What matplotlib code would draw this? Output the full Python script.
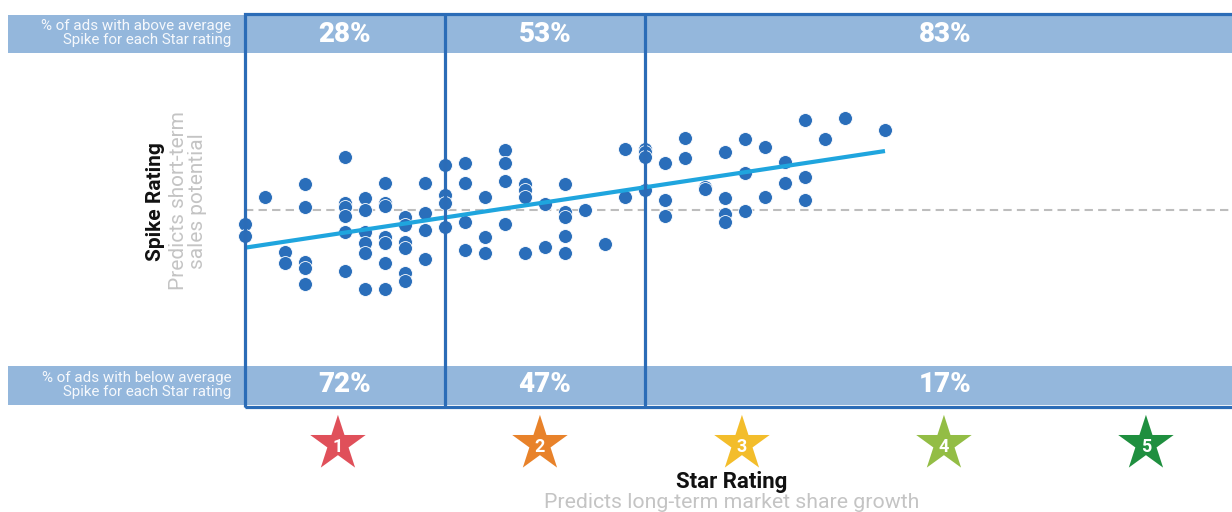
import numpy as np
import matplotlib.pyplot as plt
from matplotlib.patches import Rectangle

plt.rcParams['font.family'] = ['Roboto', 'DejaVu Sans']

# star rating (x) and spike rating (y, 0 = average) for each ad
star_score = [0.5, 0.5, 0.6, 0.7, 0.7,
              0.8, 0.8, 0.8, 0.8, 0.8,
              1.0, 1.0, 1.0, 1.0, 1.0, 1.0,
              1.1, 1.1, 1.1, 1.1, 1.1, 1.1,
              1.2, 1.2, 1.2, 1.2, 1.2, 1.2, 1.2,
              1.3, 1.3, 1.3, 1.3, 1.3, 1.3,
              1.4, 1.4, 1.4, 1.4,
              1.5, 1.5, 1.5, 1.5,
              1.6, 1.6, 1.6, 1.6,
              1.7, 1.7, 1.7,
              1.8, 1.8, 1.8, 1.8,
              1.9, 1.9, 1.9, 1.9,
              2.0, 2.0,
              2.1, 2.1, 2.1, 2.1, 2.1,
              2.2, 2.3, 2.4, 2.4,
              2.5, 2.5, 2.5, 2.5,
              2.6, 2.6, 2.6,
              2.7, 2.7, 2.8, 2.8,
              2.9, 2.9, 2.9, 2.9,
              3.0, 3.0, 3.0,
              3.1, 3.1, 3.2, 3.2,
              3.3, 3.3, 3.3, 3.4, 3.5, 3.7]
spike_score = [-1.4, -2.6, 1.3, -4.2, -5.3,
               2.6, 0.3, -5.2, -5.8, -7.4,
               5.3, 0.7, 0.3, -0.6, -2.2, -6.1,
               1.2, 0.0, -2.2, -3.3, -4.3, -7.9,
               2.7, 0.7, 0.4, -2.7, -3.3, -5.3, -7.9,
               -0.7, -1.5, -3.2, -3.8, -6.3, -7.1,
               2.7, -0.3, -2.0, -4.9,
               4.5, 1.5, 0.7, -1.7,
               4.7, 2.7, -1.2, -4.0,
               1.3, -2.7, -4.3,
               6.0, 4.7, 2.9, -1.4,
               2.6, 2.0, 1.3, -4.3,
               0.6, -3.7,
               2.6, -0.2, -0.7, -2.6, -4.3,
               0.0, -3.4, 6.1, 1.3,
               6.1, 5.8, 5.3, 2.0,
               4.7, 1.0, -0.6,
               7.2, 5.2, 2.3, 2.1,
               5.8, 1.2, -0.4, -1.2,
               7.1, 3.7, -0.1,
               6.3, 1.3, 4.8, 2.7,
               9.0, 3.3, 1.0, 7.1, 9.2, 8.0]

above_pct = ['28%', '53%', '83%']
below_pct = ['72%', '47%', '17%']
pct_x = [1, 2, 4]
segment_edges = [0.5, 1.5, 2.5]

star_labels = ['1', '2', '3', '4', '5']
star_pos = [1, 2, 3, 4, 5]
star_colors = ['#e0505a', '#e8822a', '#f3bd2b', '#93bd45', '#1f8f3f']

frame_color = '#2b6cb7'
band_color = '#94b7dc'
dot_color = '#2a6eba'
trend_color = '#1fa5de'

fig = plt.figure(figsize=(12.32, 5.12), dpi=100)
ax = fig.add_axes([0, 0, 1, 1])
ax.set_xlim(-0.725, 5.435)
ax.set_ylim(-30.2, 21.0)
ax.axis('off')

# shaded bands at top and bottom
ax.axhspan(15.7, 19.5, xmin=8 / 1232, xmax=1, color=band_color, lw=0, zorder=0)
ax.axhspan(-19.5, -15.6, xmin=8 / 1232, xmax=1, color=band_color, lw=0, zorder=0)

# frame and segment dividers
ax.add_patch(Rectangle((segment_edges[0], -19.7), 6, 39.3, fill=False,
                       edgecolor=frame_color, lw=2.3, zorder=5))
ax.vlines(segment_edges[1:], -19.7, 19.6, color=frame_color, lw=2.3, zorder=5)

# average line
ax.hlines(0, segment_edges[0], 5.435, color='#bdbdbd', lw=1.5,
          linestyles=(0, (4, 2.5)), zorder=1)

# scatter + trend
ax.scatter(star_score, spike_score, s=100, color=dot_color, edgecolors='white',
           linewidths=0.6, zorder=3)
coef = np.polyfit(star_score, spike_score, 1)
xs = np.array([min(star_score), max(star_score)])
ax.plot(xs, np.polyval(coef, xs), color=trend_color, lw=3, solid_capstyle='butt', zorder=4)

# percentages
for x, a, b in zip(pct_x, above_pct, below_pct):
    ax.text(x, 17.6, a, color='white', fontsize=20, fontweight='heavy',
            ha='center', va='center', zorder=6)
    ax.text(x, -17.5, b, color='white', fontsize=20, fontweight='heavy',
            ha='center', va='center', zorder=6)

ax.text(0.43, 17.7, '% of ads with above average\nSpike for each Star rating',
        color='#f5f8fc', fontsize=10.9, ha='right', va='center', linespacing=0.95)
ax.text(0.43, -17.5, '% of ads with below average\nSpike for each Star rating',
        color='#f5f8fc', fontsize=10.9, ha='right', va='center', linespacing=0.95)

# y axis titles
ax.text(0.05, 0.8, 'Spike Rating', rotation=90, fontsize=15, fontweight='bold',
        color='#111111', ha='center', va='center')
ax.text(0.215, 0.9, 'Predicts short-term\nsales potential', rotation=90,
        fontsize=15, color='#c4c4c4', ha='center', va='center', linespacing=1.0)

# x axis titles
ax.text(2.935, -27.2, 'Star Rating', fontsize=16, fontweight='bold',
        color='#111111', ha='center', va='center')
ax.text(2.935, -29.3, 'Predicts long-term market share growth', fontsize=15.3,
        color='#c4c4c4', ha='center', va='center')

# stars
ax2 = fig.add_axes([0, 0, 1, 1])
ax2.set_xlim(-0.673, 5.426)
ax2.set_ylim(-30.2, 21.0)
ax2.axis('off')
ax2.scatter(star_pos, [-23.4] * len(star_pos), marker='*', s=42 ** 2,
            color=star_colors, edgecolors='none')
for x, lab in zip(star_pos, star_labels):
    ax2.text(x, -23.7, lab, color='white', fontsize=13, fontweight='bold',
             ha='center', va='center')

fig.savefig('out.png', dpi=100)
